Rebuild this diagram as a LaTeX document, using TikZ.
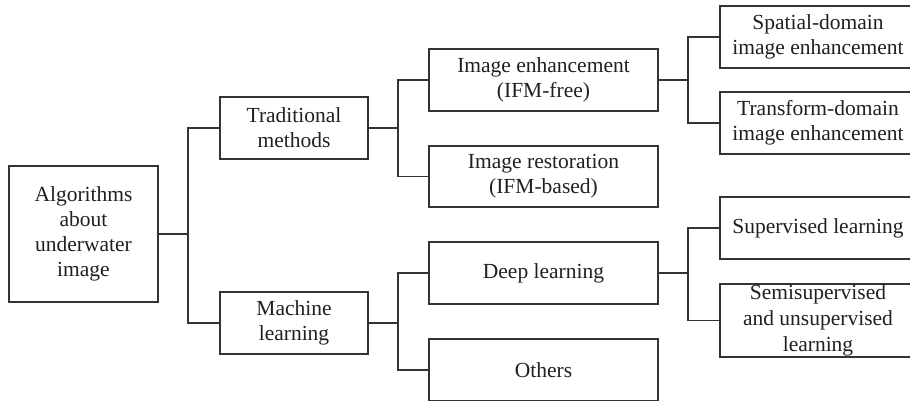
\documentclass[tikz,border=0pt]{standalone}
\usepackage{fontspec}
\setmainfont{Liberation Serif}
\definecolor{ink}{HTML}{231F20}
\definecolor{edge}{HTML}{333333}
\begin{document}
\begin{tikzpicture}[x=1pt,y=-1pt,
  box/.style={draw=edge,line width=1.2pt,rectangle,inner sep=0pt,align=center,
    text=ink,font=\fontsize{21.5}{25}\selectfont},
  link/.style={draw=edge,line width=1.2pt,line join=miter}]
\useasboundingbox (0,0) rectangle (910,400);
\clip (0,0) rectangle (910,400);
\fill[white] (0,0) rectangle (910,400);
% level 0
\node[box,minimum width=149pt,minimum height=136pt] (root) at (83.5,234) {Algorithms\\about\\underwater\\image};
% level 1
\node[box,minimum width=148pt,minimum height=62pt] (trad) at (294,128) {Traditional\\methods};
\node[box,minimum width=148pt,minimum height=62pt] (ml) at (294,323) {Machine\\learning};
% level 2
\node[box,minimum width=229pt,minimum height=62pt] (ie) at (543.5,80) {Image enhancement\\(IFM-free)};
\node[box,minimum width=229pt,minimum height=61pt] (ir) at (543.5,176.5) {Image restoration\\(IFM-based)};
\node[box,minimum width=229pt,minimum height=62pt] (dl) at (543.5,273) {Deep learning};
\node[box,minimum width=229pt,minimum height=62pt] (oth) at (543.5,370) {Others};
% level 3
\node[box,minimum width=196pt,minimum height=62pt] (sp) at (818,37) {Spatial-domain\\image enhancement};
\node[box,minimum width=196pt,minimum height=62pt] (tr) at (818,123) {Transform-domain\\image enhancement};
\node[box,minimum width=196pt,minimum height=62pt] (su) at (818,228) {Supervised learning};
\node[box,minimum width=196pt,minimum height=73pt,font=\fontsize{21.5}{26}\selectfont] (se) at (818,320.5) {Semisupervised\\and unsupervised\\learning};
% trunks
\coordinate (t1) at (188,0);
\coordinate (t2) at (398,0);
\coordinate (t3) at (688,0);
% connectors
\draw[link] (root.east) -- (root.east -| t1);
\draw[link] (trad.west) -- (trad.west -| t1) -- (ml.west -| t1) -- (ml.west);
\draw[link] (trad.east) -- (trad.east -| t2);
\draw[link] (ie.west) -- (ie.west -| t2) -- (ir.west -| t2) -- (ir.west);
\draw[link] (ml.east) -- (ml.east -| t2);
\draw[link] (dl.west) -- (dl.west -| t2) -- (oth.west -| t2) -- (oth.west);
\draw[link] (ie.east) -- (ie.east -| t3);
\draw[link] (sp.west) -- (sp.west -| t3) -- (tr.west -| t3) -- (tr.west);
\draw[link] (dl.east) -- (dl.east -| t3);
\draw[link] (su.west) -- (su.west -| t3) -- (se.west -| t3) -- (se.west);
\end{tikzpicture}
\end{document}
